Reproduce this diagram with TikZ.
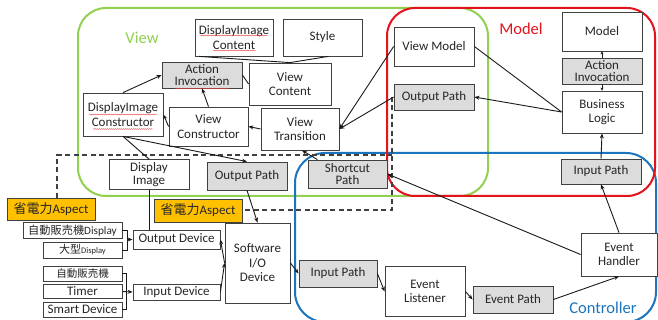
\documentclass[tikz,border=0pt]{standalone}
\usepackage{fontspec}
\setmainfont{Carlito}
\newfontfamily\cjk{Noto Sans CJK JP}
\usetikzlibrary{arrows.meta,decorations.pathmorphing}

\definecolor{viewgreen}{HTML}{92D050}
\definecolor{modelred}{HTML}{E3121B}
\definecolor{ctrlblue}{HTML}{1C74BC}
\definecolor{boxline}{HTML}{404040}
\definecolor{boxgray}{HTML}{DCDCDC}
\definecolor{aspectgold}{HTML}{FFC000}
\definecolor{txt}{HTML}{262626}
\definecolor{wire}{HTML}{1A1A1A}

\tikzset{
  box/.style={draw=boxline, line width=0.8pt, fill=white, align=center,
    inner sep=0pt, text=txt, font=\fontsize{13}{14.5}\selectfont},
  gbox/.style={box, fill=boxgray},
  abox/.style={box, fill=aspectgold},
  sz/.style 2 args={minimum width=#1, minimum height=#2},
  tight/.style={font=\fontsize{13}{12.8}\selectfont},
  arr/.style={draw=wire, line width=0.9pt, -{Stealth[length=5pt,width=4pt]}},
  wireline/.style={draw=wire, line width=0.9pt},
  smallarr/.style={draw=wire, line width=0.8pt, -{Stealth[length=3pt,width=3pt]}},
  group/.style={line width=2pt, rounded corners=28pt},
  dashline/.style={draw=boxline, line width=1.3pt, dash pattern=on 5pt off 3.5pt},
  grouplabel/.style={font=\fontsize{16.5}{16.5}\selectfont, inner sep=0pt},
  squig/.style={draw=modelred!80, line width=0.3pt,
    decorate, decoration={snake, amplitude=0.5pt, segment length=2pt}}
}

\begin{document}
\begin{tikzpicture}[x=1pt,y=-1pt]
\useasboundingbox (0,0) rectangle (658,320);
\fill[white] (0,0) rectangle (658,320);

% group outlines
\draw[group, viewgreen] (78,8) rectangle (488,196);
\draw[group, ctrlblue, rounded corners=30pt] (295,153) rectangle (656,322);
\draw[group, modelred] (387,8) rectangle (655,196);

% power-saving aspect boundary
\draw[dashline] (57,198) -- (57,155) -- (392,155);
\draw[dashline] (392,97) -- (392,210) -- (242,210);

% group titles
\node[grouplabel, text=viewgreen] (lview) at (142,38) {View};
\node[grouplabel, text=modelred] (lmodel) at (521,29) {Model};
\node[grouplabel, text=ctrlblue] (lctrl) at (603,308) {Controller};

% View
\node[box,sz={78}{37}] (dicont) at (234,37.5) {DisplayImage\\Content};
\node[box,sz={79}{37}] (style) at (322.5,37.5) {Style};
\node[gbox,tight,sz={80}{26}] (ai) at (202,75) {Action\\Invocation};
\node[box,sz={82}{42}] (vcont) at (290,84) {View\\Content};
\node[box,sz={80}{43}] (dicons) at (123,114.5) {DisplayImage\\Constructor};
\node[box,sz={79}{39}] (vcons) at (208.5,126.5) {View\\Constructor};
\node[box,sz={78}{42}] (vtrans) at (300,129) {View\\Transition};
\node[box,tight,sz={80}{30}] (dimg) at (149,174.5) {Display\\Image};
\node[gbox,sz={80}{28}] (opv) at (247,176) {Output Path};
\node[gbox,tight,sz={79}{28}] (sc) at (347.5,174) {Shortcut\\Path};

% Model
\node[box,sz={80}{39}] (vmodel) at (434,46.5) {View Model};
\node[gbox,sz={80}{26}] (opm) at (434,97) {Output Path};
\node[box,sz={80}{39}] (model) at (602,31.5) {Model};
\node[gbox,tight,sz={80}{26}] (aim) at (602,71) {Action\\Invocation};
\node[box,sz={80}{42}] (bl) at (602,112) {Business\\Logic};
\node[gbox,sz={80}{25}] (ipm) at (601,171.5) {Input Path};

% Controller
\node[box,sz={76}{43}] (eh) at (619,254.5) {Event\\Handler};
\node[gbox,sz={78}{27}] (ipc) at (338,273.5) {Input Path};
\node[box,sz={80}{50}] (el) at (425,291.5) {Event\\Listener};
\node[gbox,sz={80}{27}] (ep) at (513,299.5) {Event Path};

% devices
\node[abox,sz={88}{22}] (asp1) at (51,209) {{\cjk 省電力}Aspect};
\node[abox,sz={88}{23}] (asp2) at (198,210.5) {{\cjk 省電力}Aspect};
\node[box,sz={99}{16},font=\fontsize{11.2}{11}\selectfont] (d1) at (72.5,230.5) {{\cjk 自動販売機}Display};
\node[box,sz={79}{16},font=\fontsize{11}{11}\selectfont] (d2) at (82.5,250) {{\cjk 大型}{\fontsize{8.5}{8.5}\selectfont Display}};
\node[box,sz={87}{19}] (odev) at (176.5,239.5) {Output Device};
\node[box,sz={79}{15},font=\fontsize{10.5}{10.5}\selectfont] (m1) at (82.5,273.5) {{\cjk 自動販売機}};
\node[box,sz={79}{14}] (tm) at (82.5,291.5) {Timer};
\node[box,sz={79}{15}] (sd) at (82.5,309.5) {Smart Device};
\node[box,sz={87}{16}] (idev) at (176.5,292) {Input Device};
\node[box,sz={65}{80}] (sw) at (257.5,263) {Software\\I/O\\Device};

% spell-check marks
\draw[squig] (200,35.5) -- (268,35.5);
\draw[squig] (213,50.5) -- (256,50.5);
\draw[squig] (89,114.5) -- (157,114.5);
\draw[squig] (93,129) -- (153,129);
\draw[squig] (175,88.5) -- (229,88.5);

% View connectors
\draw[wireline] ([xshift=-35]dicont.south) -- (vcont.north);
\draw[wireline] ([xshift=6]style.south) -- (vcont.north);
\draw[wireline] (ai.east) -- (vcont.west);
\draw[arr] (vcons.north) -- (ai.south);
\draw[arr] (dicons.north) -- (ai.west);
\draw[arr] (vcons.west) -- (dicons.east);
\draw[arr] (vtrans.west) -- (vcons.east);
\draw[arr] (vmodel.west) -- (vtrans.east);
\draw[arr] (opm.west) -- (vtrans.east);
\draw[arr] (dicons.south) -- (opv.north);
\draw[wireline] (dicons.south) -- (dimg.north);
\draw[wireline] (dimg.south) -- (dimg.south |- odev.north);
\draw[arr] ([xshift=-30]sc.north) -- ([xshift=2]vtrans.south);

% Model connectors
\draw[wireline] (bl.west) -- (vmodel.east);
\draw[arr] (bl.west) -- (opm.east);
\draw[smallarr] (aim.north) -- (model.south);
\draw[smallarr] (aim.south) -- (bl.north);
\draw[arr] (ipm.north) -- (bl.south);

% Controller connectors
\draw[arr] (eh.north) -- (ipm.south);
\draw[arr] (eh.west) -- (sc.east);
\draw[arr] (sw.east) -- (ipc.west);
\draw[arr] (ipc.east) -- (el.west);
\draw[arr] (el.east) -- (ep.west);
\draw[arr] (ep.east) -- (eh.south);

% device connectors
\draw[arr] (opv.south) -- (sw.north);
\draw[arr] (sw.west) -- (odev.east);
\draw[arr] (idev.east) -- (sw.west);
\draw[wireline] (d1.east) -| ([xshift=5]d2.east) -- (d2.east);
\draw[arr] ([xshift=5]d1.east |- odev.west) -- (odev.west);
\draw[wireline] (m1.east) -| ([xshift=4]sd.east) -- (sd.east);
\draw[arr] (tm.east) -- (idev.west);
\end{tikzpicture}
\end{document}
